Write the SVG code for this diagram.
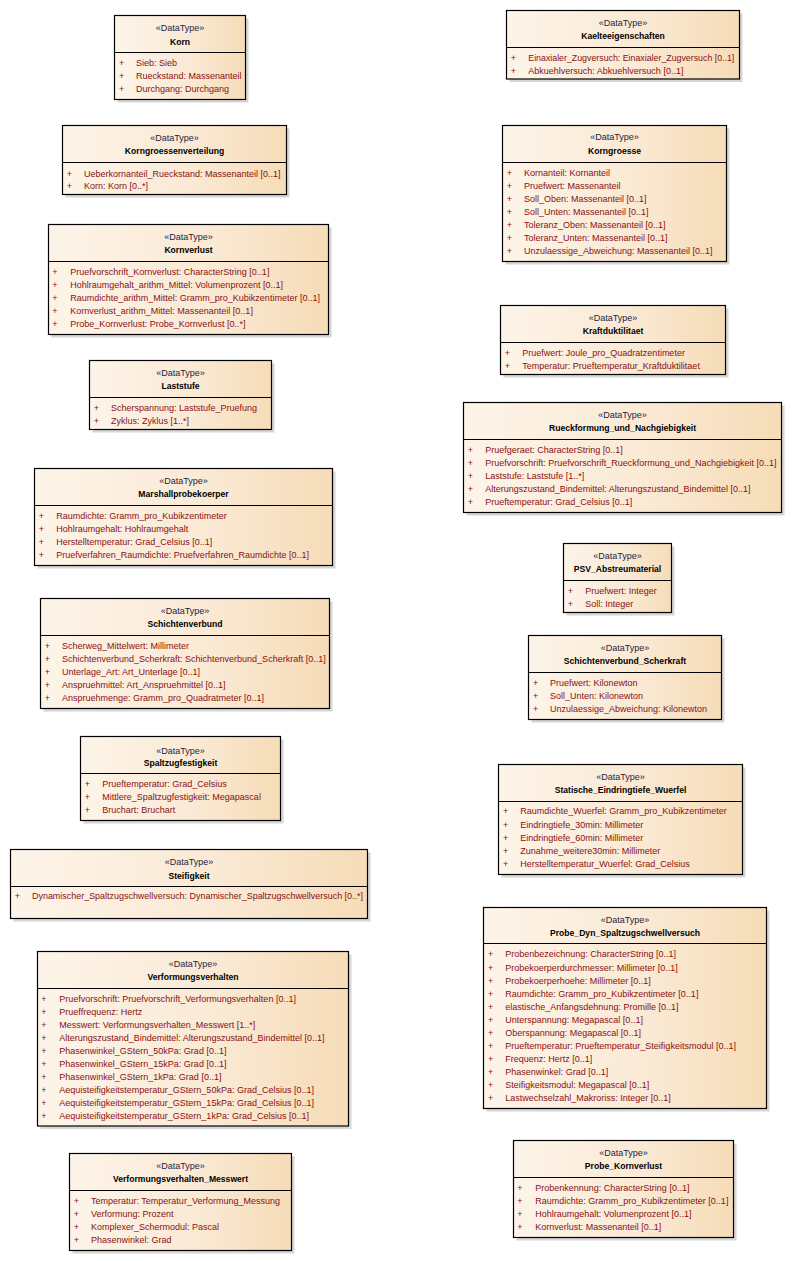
<svg xmlns="http://www.w3.org/2000/svg" width="792" height="1261" viewBox="0 0 792 1261">
<defs>
<linearGradient id="g" x1="0" y1="0" x2="1" y2="0">
<stop offset="0" stop-color="#FDF4E9"/>
<stop offset="0.55" stop-color="#FAEAD6"/>
<stop offset="1" stop-color="#F6DCB7"/>
</linearGradient>
</defs>
<style>
.sh{fill:#d6d6d6}
.bx{fill:url(#g);stroke:#000;stroke-width:1.2}
.dv{stroke:#000;stroke-width:1}
.st{font-family:"Liberation Sans",Arial,sans-serif;font-size:9px;fill:#1c2540;text-anchor:middle}
.nm{font-family:"Liberation Sans",Arial,sans-serif;font-size:8.6px;font-weight:bold;fill:#000;text-anchor:middle}
.at{font-family:"Liberation Sans",Arial,sans-serif;font-size:9px;fill:#8a1010}
.pl{font-family:"Liberation Sans",Arial,sans-serif;font-size:9px;fill:#8a1010;text-anchor:middle}
</style>
<rect width="792" height="1261" fill="#fff"/>
<g id="connectors"/>

<g id="Korn">
<rect class="sh" x="117.5" y="18.5" width="131" height="84"/>
<rect class="bx" x="114.5" y="15.5" width="131" height="84"/>
<line class="dv" x1="114.5" y1="52.5" x2="245.5" y2="52.5"/>
<text class="st" x="180" y="31">«DataType»</text>
<text class="nm" x="180" y="44.5">Korn</text>
<text class="pl" x="121.7" y="66">+</text><text class="at" x="136" y="66">Sieb: Sieb</text>
<text class="pl" x="121.7" y="79">+</text><text class="at" x="136" y="79">Rueckstand: Massenanteil</text>
<text class="pl" x="121.7" y="92">+</text><text class="at" x="136" y="92">Durchgang: Durchgang</text>
</g>

<g id="Korngroessenverteilung">
<rect class="sh" x="65.5" y="128.5" width="224" height="69"/>
<rect class="bx" x="62.5" y="125.5" width="224" height="69"/>
<line class="dv" x1="62.5" y1="162.5" x2="286.5" y2="162.5"/>
<text class="st" x="174.5" y="140.5">«DataType»</text>
<text class="nm" x="174.5" y="154">Korngroessenverteilung</text>
<text class="pl" x="69.3" y="176.5">+</text><text class="at" x="84" y="176.5">Ueberkornanteil_Rueckstand: Massenanteil [0..1]</text>
<text class="pl" x="69.3" y="189">+</text><text class="at" x="84" y="189">Korn: Korn [0..*]</text>
</g>

<g id="Kornverlust">
<rect class="sh" x="51.5" y="227.5" width="280" height="110"/>
<rect class="bx" x="48.5" y="224.5" width="280" height="110"/>
<line class="dv" x1="48.5" y1="261.5" x2="328.5" y2="261.5"/>
<text class="st" x="188.5" y="239.7">«DataType»</text>
<text class="nm" x="188.5" y="253">Kornverlust</text>
<text class="pl" x="55" y="275.3">+</text><text class="at" x="70.3" y="275.3">Pruefvorschrift_Kornverlust: CharacterString [0..1]</text>
<text class="pl" x="55" y="288">+</text><text class="at" x="70.3" y="288">Hohlraumgehalt_arithm_Mittel: Volumenprozent [0..1]</text>
<text class="pl" x="55" y="301">+</text><text class="at" x="70.3" y="301">Raumdichte_arithm_Mittel: Gramm_pro_Kubikzentimeter [0..1]</text>
<text class="pl" x="55" y="313.7">+</text><text class="at" x="70.3" y="313.7">Kornverlust_arithm_Mittel: Massenanteil [0..1]</text>
<text class="pl" x="55" y="326.7">+</text><text class="at" x="70.3" y="326.7">Probe_Kornverlust: Probe_Kornverlust [0..*]</text>
</g>

<g id="Laststufe">
<rect class="sh" x="92.5" y="363.5" width="182" height="69"/>
<rect class="bx" x="89.5" y="360.5" width="182" height="69"/>
<line class="dv" x1="89.5" y1="397.5" x2="271.5" y2="397.5"/>
<text class="st" x="180.5" y="376.3">«DataType»</text>
<text class="nm" x="180.5" y="389">Laststufe</text>
<text class="pl" x="96.3" y="411">+</text><text class="at" x="111" y="411">Scherspannung: Laststufe_Pruefung</text>
<text class="pl" x="96.3" y="424">+</text><text class="at" x="111" y="424">Zyklus: Zyklus [1..*]</text>
</g>

<g id="Marshallprobekoerper">
<rect class="sh" x="37.5" y="471.5" width="298" height="97"/>
<rect class="bx" x="34.5" y="468.5" width="298" height="97"/>
<line class="dv" x1="34.5" y1="505.5" x2="332.5" y2="505.5"/>
<text class="st" x="183.5" y="484">«DataType»</text>
<text class="nm" x="183.5" y="497">Marshallprobekoerper</text>
<text class="pl" x="41.3" y="519">+</text><text class="at" x="56.3" y="519">Raumdichte: Gramm_pro_Kubikzentimeter</text>
<text class="pl" x="41.3" y="532">+</text><text class="at" x="56.3" y="532">Hohlraumgehalt: Hohlraumgehalt</text>
<text class="pl" x="41.3" y="545">+</text><text class="at" x="56.3" y="545">Herstelltemperatur: Grad_Celsius [0..1]</text>
<text class="pl" x="41.3" y="558">+</text><text class="at" x="56.3" y="558">Pruefverfahren_Raumdichte: Pruefverfahren_Raumdichte [0..1]</text>
</g>

<g id="Schichtenverbund">
<rect class="sh" x="43.5" y="601.5" width="289" height="110"/>
<rect class="bx" x="40.5" y="598.5" width="289" height="110"/>
<line class="dv" x1="40.5" y1="635.5" x2="329.5" y2="635.5"/>
<text class="st" x="185" y="614">«DataType»</text>
<text class="nm" x="185" y="626.5">Schichtenverbund</text>
<text class="pl" x="47.3" y="649">+</text><text class="at" x="62" y="649">Scherweg_Mittelwert: Millimeter</text>
<text class="pl" x="47.3" y="662">+</text><text class="at" x="62" y="662">Schichtenverbund_Scherkraft: Schichtenverbund_Scherkraft [0..1]</text>
<text class="pl" x="47.3" y="675">+</text><text class="at" x="62" y="675">Unterlage_Art: Art_Unterlage [0..1]</text>
<text class="pl" x="47.3" y="688">+</text><text class="at" x="62" y="688">Anspruehmittel: Art_Anspruehmittel [0..1]</text>
<text class="pl" x="47.3" y="700.7">+</text><text class="at" x="62" y="700.7">Anspruehmenge: Gramm_pro_Quadratmeter [0..1]</text>
</g>

<g id="Spaltzugfestigkeit">
<rect class="sh" x="83.5" y="739.5" width="200" height="84"/>
<rect class="bx" x="80.5" y="736.5" width="200" height="84"/>
<line class="dv" x1="80.5" y1="773.5" x2="280.5" y2="773.5"/>
<text class="st" x="180.5" y="754">«DataType»</text>
<text class="nm" x="180.5" y="765.5">Spaltzugfestigkeit</text>
<text class="pl" x="87.3" y="786.7">+</text><text class="at" x="102.3" y="786.7">Prueftemperatur: Grad_Celsius</text>
<text class="pl" x="87.3" y="800">+</text><text class="at" x="102.3" y="800">Mittlere_Spaltzugfestigkeit: Megapascal</text>
<text class="pl" x="87.3" y="813">+</text><text class="at" x="102.3" y="813">Bruchart: Bruchart</text>
</g>

<g id="Steifigkeit">
<rect class="sh" x="13.5" y="852.5" width="357" height="69"/>
<rect class="bx" x="10.5" y="849.5" width="357" height="69"/>
<line class="dv" x1="10.5" y1="886.5" x2="367.5" y2="886.5"/>
<text class="st" x="189" y="865">«DataType»</text>
<text class="nm" x="189" y="878.5">Steifigkeit</text>
<text class="pl" x="17.3" y="898.7">+</text><text class="at" x="32" y="898.7" textLength="331" lengthAdjust="spacingAndGlyphs">Dynamischer_Spaltzugschwellversuch: Dynamischer_Spaltzugschwellversuch [0..*]</text>
</g>

<g id="Verformungsverhalten">
<rect class="sh" x="40.5" y="954.5" width="311" height="174.5"/>
<rect class="bx" x="37.5" y="951.5" width="311" height="174.5"/>
<line class="dv" x1="37.5" y1="988.5" x2="348.5" y2="988.5"/>
<text class="st" x="193" y="967.3">«DataType»</text>
<text class="nm" x="193" y="980">Verformungsverhalten</text>
<text class="pl" x="44" y="1002">+</text><text class="at" x="59.3" y="1002">Pruefvorschrift: Pruefvorschrift_Verformungsverhalten [0..1]</text>
<text class="pl" x="44" y="1014.7">+</text><text class="at" x="59.3" y="1014.7">Prueffrequenz: Hertz</text>
<text class="pl" x="44" y="1027.7">+</text><text class="at" x="59.3" y="1027.7">Messwert: Verformungsverhalten_Messwert [1..*]</text>
<text class="pl" x="44" y="1041">+</text><text class="at" x="59.3" y="1041">Alterungszustand_Bindemittel: Alterungszustand_Bindemittel [0..1]</text>
<text class="pl" x="44" y="1054">+</text><text class="at" x="59.3" y="1054">Phasenwinkel_GStern_50kPa: Grad [0..1]</text>
<text class="pl" x="44" y="1067">+</text><text class="at" x="59.3" y="1067">Phasenwinkel_GStern_15kPa: Grad [0..1]</text>
<text class="pl" x="44" y="1079.7">+</text><text class="at" x="59.3" y="1079.7">Phasenwinkel_GStern_1kPa: Grad [0..1]</text>
<text class="pl" x="44" y="1093">+</text><text class="at" x="59.3" y="1093">Aequisteifigkeitstemperatur_GStern_50kPa: Grad_Celsius [0..1]</text>
<text class="pl" x="44" y="1106.3">+</text><text class="at" x="59.3" y="1106.3">Aequisteifigkeitstemperatur_GStern_15kPa: Grad_Celsius [0..1]</text>
<text class="pl" x="44" y="1119">+</text><text class="at" x="59.3" y="1119">Aequisteifigkeitstemperatur_GStern_1kPa: Grad_Celsius [0..1]</text>
</g>

<g id="Verformungsverhalten_Messwert">
<rect class="sh" x="72.5" y="1156.5" width="222" height="97"/>
<rect class="bx" x="69.5" y="1153.5" width="222" height="97"/>
<line class="dv" x1="69.5" y1="1190.5" x2="291.5" y2="1190.5"/>
<text class="st" x="180.5" y="1169.3">«DataType»</text>
<text class="nm" x="180.5" y="1182">Verformungsverhalten_Messwert</text>
<text class="pl" x="76.3" y="1204">+</text><text class="at" x="91" y="1204">Temperatur: Temperatur_Verformung_Messung</text>
<text class="pl" x="76.3" y="1217">+</text><text class="at" x="91" y="1217">Verformung: Prozent</text>
<text class="pl" x="76.3" y="1230">+</text><text class="at" x="91" y="1230">Komplexer_Schermodul: Pascal</text>
<text class="pl" x="76.3" y="1243">+</text><text class="at" x="91" y="1243">Phasenwinkel: Grad</text>
</g>

<g id="Kaelteeigenschaften">
<rect class="sh" x="509.5" y="13.5" width="233" height="68.5"/>
<rect class="bx" x="506.5" y="10.5" width="233" height="68.5"/>
<line class="dv" x1="506.5" y1="47.5" x2="739.5" y2="47.5"/>
<text class="st" x="623" y="26.3">«DataType»</text>
<text class="nm" x="623" y="39">Kaelteeigenschaften</text>
<text class="pl" x="513.3" y="61">+</text><text class="at" x="528.3" y="61" textLength="206" lengthAdjust="spacingAndGlyphs">Einaxialer_Zugversuch: Einaxialer_Zugversuch [0..1]</text>
<text class="pl" x="513.3" y="73.7">+</text><text class="at" x="528.3" y="73.7">Abkuehlversuch: Abkuehlversuch [0..1]</text>
</g>

<g id="Korngroesse">
<rect class="sh" x="505.5" y="128.5" width="224" height="136"/>
<rect class="bx" x="502.5" y="125.5" width="224" height="136"/>
<line class="dv" x1="502.5" y1="162.5" x2="726.5" y2="162.5"/>
<text class="st" x="614.5" y="140.3">«DataType»</text>
<text class="nm" x="614.5" y="153.7">Korngroesse</text>
<text class="pl" x="509.3" y="176">+</text><text class="at" x="524" y="176">Kornanteil: Kornanteil</text>
<text class="pl" x="509.3" y="188.7">+</text><text class="at" x="524" y="188.7">Pruefwert: Massenanteil</text>
<text class="pl" x="509.3" y="202">+</text><text class="at" x="524" y="202">Soll_Oben: Massenanteil [0..1]</text>
<text class="pl" x="509.3" y="214.7">+</text><text class="at" x="524" y="214.7">Soll_Unten: Massenanteil [0..1]</text>
<text class="pl" x="509.3" y="228">+</text><text class="at" x="524" y="228">Toleranz_Oben: Massenanteil [0..1]</text>
<text class="pl" x="509.3" y="241">+</text><text class="at" x="524" y="241">Toleranz_Unten: Massenanteil [0..1]</text>
<text class="pl" x="509.3" y="253.7">+</text><text class="at" x="524" y="253.7">Unzulaessige_Abweichung: Massenanteil [0..1]</text>
</g>

<g id="Kraftduktilitaet">
<rect class="sh" x="503.5" y="308.5" width="225" height="69"/>
<rect class="bx" x="500.5" y="305.5" width="225" height="69"/>
<line class="dv" x1="500.5" y1="342.5" x2="725.5" y2="342.5"/>
<text class="st" x="613" y="320.7">«DataType»</text>
<text class="nm" x="613" y="334.3">Kraftduktilitaet</text>
<text class="pl" x="507.3" y="355.7">+</text><text class="at" x="522.3" y="355.7">Pruefwert: Joule_pro_Quadratzentimeter</text>
<text class="pl" x="507.3" y="369">+</text><text class="at" x="522.3" y="369">Temperatur: Prueftemperatur_Kraftduktilitaet</text>
</g>

<g id="Rueckformung_und_Nachgiebigkeit">
<rect class="sh" x="466.5" y="405.5" width="318" height="110"/>
<rect class="bx" x="463.5" y="402.5" width="318" height="110"/>
<line class="dv" x1="463.5" y1="439.5" x2="781.5" y2="439.5"/>
<text class="st" x="622.5" y="418.3">«DataType»</text>
<text class="nm" x="622.5" y="430.7">Rueckformung_und_Nachgiebigkeit</text>
<text class="pl" x="470.3" y="453.3">+</text><text class="at" x="485.3" y="453.3">Pruefgeraet: CharacterString [0..1]</text>
<text class="pl" x="470.3" y="466.3">+</text><text class="at" x="485.3" y="466.3">Pruefvorschrift: Pruefvorschrift_Rueckformung_und_Nachgiebigkeit [0..1]</text>
<text class="pl" x="470.3" y="478.7">+</text><text class="at" x="485.3" y="478.7">Laststufe: Laststufe [1..*]</text>
<text class="pl" x="470.3" y="492">+</text><text class="at" x="485.3" y="492">Alterungszustand_Bindemittel: Alterungszustand_Bindemittel [0..1]</text>
<text class="pl" x="470.3" y="505">+</text><text class="at" x="485.3" y="505">Prueftemperatur: Grad_Celsius [0..1]</text>
</g>

<g id="PSV_Abstreumaterial">
<rect class="sh" x="566.5" y="546.5" width="108" height="69"/>
<rect class="bx" x="563.5" y="543.5" width="108" height="69"/>
<line class="dv" x1="563.5" y1="580.5" x2="671.5" y2="580.5"/>
<text class="st" x="617.5" y="559">«DataType»</text>
<text class="nm" x="617.5" y="571.7">PSV_Abstreumaterial</text>
<text class="pl" x="570.3" y="594">+</text><text class="at" x="585.3" y="594">Pruefwert: Integer</text>
<text class="pl" x="570.3" y="606.7">+</text><text class="at" x="585.3" y="606.7">Soll: Integer</text>
</g>

<g id="Schichtenverbund_Scherkraft">
<rect class="sh" x="531.5" y="638.5" width="193" height="84"/>
<rect class="bx" x="528.5" y="635.5" width="193" height="84"/>
<line class="dv" x1="528.5" y1="672.5" x2="721.5" y2="672.5"/>
<text class="st" x="625" y="651.3">«DataType»</text>
<text class="nm" x="625" y="663.7">Schichtenverbund_Scherkraft</text>
<text class="pl" x="535.7" y="686">+</text><text class="at" x="550" y="686">Pruefwert: Kilonewton</text>
<text class="pl" x="535.7" y="698.7">+</text><text class="at" x="550" y="698.7">Soll_Unten: Kilonewton</text>
<text class="pl" x="535.7" y="712">+</text><text class="at" x="550" y="712">Unzulaessige_Abweichung: Kilonewton</text>
</g>

<g id="Statische_Eindringtiefe_Wuerfel">
<rect class="sh" x="501.5" y="767.5" width="244" height="110"/>
<rect class="bx" x="498.5" y="764.5" width="244" height="110"/>
<line class="dv" x1="498.5" y1="801.5" x2="742.5" y2="801.5"/>
<text class="st" x="620.5" y="780">«DataType»</text>
<text class="nm" x="620.5" y="793">Statische_Eindringtiefe_Wuerfel</text>
<text class="pl" x="505.7" y="814.3">+</text><text class="at" x="520.3" y="814.3">Raumdichte_Wuerfel: Gramm_pro_Kubikzentimeter</text>
<text class="pl" x="505.7" y="827.7">+</text><text class="at" x="520.3" y="827.7">Eindringtiefe_30min: Millimeter</text>
<text class="pl" x="505.7" y="840.7">+</text><text class="at" x="520.3" y="840.7">Eindringtiefe_60min: Millimeter</text>
<text class="pl" x="505.7" y="853.7">+</text><text class="at" x="520.3" y="853.7">Zunahme_weitere30min: Millimeter</text>
<text class="pl" x="505.7" y="867">+</text><text class="at" x="520.3" y="867">Herstelltemperatur_Wuerfel: Grad_Celsius</text>
</g>

<g id="Probe_Dyn_Spaltzugschwellversuch">
<rect class="sh" x="486.5" y="910.5" width="283" height="201"/>
<rect class="bx" x="483.5" y="907.5" width="283" height="201"/>
<line class="dv" x1="483.5" y1="943.5" x2="766.5" y2="943.5"/>
<text class="st" x="625" y="923">«DataType»</text>
<text class="nm" x="625" y="936">Probe_Dyn_Spaltzugschwellversuch</text>
<text class="pl" x="490.7" y="957.3">+</text><text class="at" x="505.3" y="957.3">Probenbezeichnung: CharacterString [0..1]</text>
<text class="pl" x="490.7" y="970.7">+</text><text class="at" x="505.3" y="970.7">Probekoerperdurchmesser: Millimeter [0..1]</text>
<text class="pl" x="490.7" y="983.7">+</text><text class="at" x="505.3" y="983.7">Probekoerperhoehe: Millimeter [0..1]</text>
<text class="pl" x="490.7" y="997">+</text><text class="at" x="505.3" y="997">Raumdichte: Gramm_pro_Kubikzentimeter [0..1]</text>
<text class="pl" x="490.7" y="1010">+</text><text class="at" x="505.3" y="1010">elastische_Anfangsdehnung: Promille [0..1]</text>
<text class="pl" x="490.7" y="1023">+</text><text class="at" x="505.3" y="1023">Unterspannung: Megapascal [0..1]</text>
<text class="pl" x="490.7" y="1036">+</text><text class="at" x="505.3" y="1036">Oberspannung: Megapascal [0..1]</text>
<text class="pl" x="490.7" y="1049">+</text><text class="at" x="505.3" y="1049">Prueftemperatur: Prueftemperatur_Steifigkeitsmodul [0..1]</text>
<text class="pl" x="490.7" y="1062">+</text><text class="at" x="505.3" y="1062">Frequenz: Hertz [0..1]</text>
<text class="pl" x="490.7" y="1075">+</text><text class="at" x="505.3" y="1075">Phasenwinkel: Grad [0..1]</text>
<text class="pl" x="490.7" y="1088">+</text><text class="at" x="505.3" y="1088">Steifigkeitsmodul: Megapascal [0..1]</text>
<text class="pl" x="490.7" y="1101">+</text><text class="at" x="505.3" y="1101">Lastwechselzahl_Makroriss: Integer [0..1]</text>
</g>

<g id="Probe_Kornverlust">
<rect class="sh" x="516.5" y="1143.5" width="220" height="97"/>
<rect class="bx" x="513.5" y="1140.5" width="220" height="97"/>
<line class="dv" x1="513.5" y1="1177.5" x2="733.5" y2="1177.5"/>
<text class="st" x="623.5" y="1156">«DataType»</text>
<text class="nm" x="623.5" y="1168.7">Probe_Kornverlust</text>
<text class="pl" x="520" y="1191.3">+</text><text class="at" x="535.3" y="1191.3">Probenkennung: CharacterString [0..1]</text>
<text class="pl" x="520" y="1204">+</text><text class="at" x="535.3" y="1204">Raumdichte: Gramm_pro_Kubikzentimeter [0..1]</text>
<text class="pl" x="520" y="1217">+</text><text class="at" x="535.3" y="1217">Hohlraumgehalt: Volumenprozent [0..1]</text>
<text class="pl" x="520" y="1230.3">+</text><text class="at" x="535.3" y="1230.3">Kornverlust: Massenanteil [0..1]</text>
</g>
</svg>
